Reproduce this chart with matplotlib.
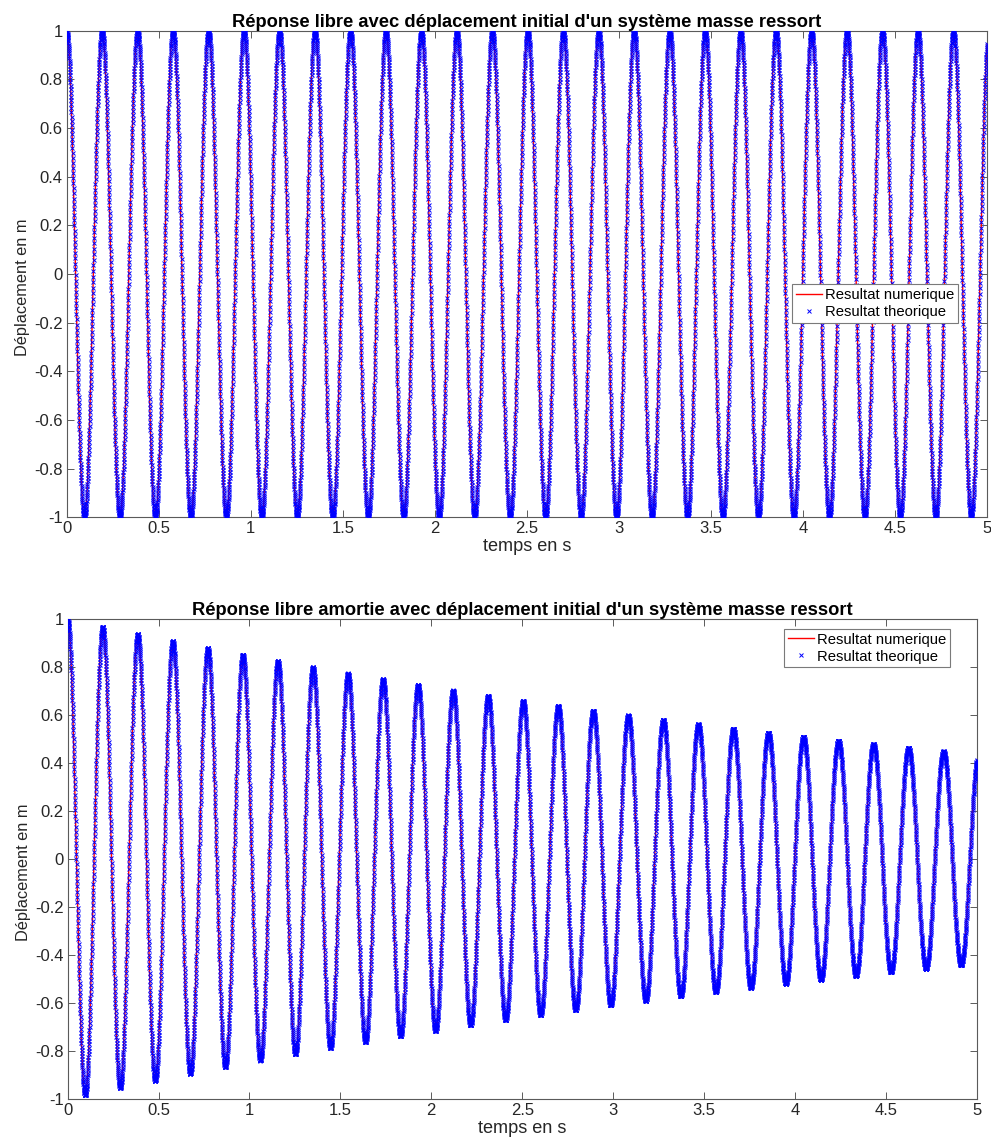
import numpy as np
import matplotlib
matplotlib.use("Agg")
import matplotlib.pyplot as plt

plt.rcParams['font.family'] = ['Liberation Sans', 'DejaVu Sans']
plt.rcParams['axes.unicode_minus'] = False

# ---- values ----
t_range = [0.0, 5.0]          # s
time_step = [0.0007]          # s, sampling of the computed response
initial_displacement = [1.0]  # m
natural_period = [0.1927]     # s  (26 cycles over 5 s)
decay_rate = [0.166]          # 1/s, envelope exp(-a t) of the damped case

titles = ["Réponse libre avec déplacement initial d'un système masse ressort",
          "Réponse libre amortie avec déplacement initial d'un système masse ressort"]
legend_labels = ["Resultat numerique", "Resultat theorique"]
xlabel = "temps en s"
ylabel = "Déplacement en m"
xticks = [0, 0.5, 1, 1.5, 2, 2.5, 3, 3.5, 4, 4.5, 5]
yticks = [-1, -0.8, -0.6, -0.4, -0.2, 0, 0.2, 0.4, 0.6, 0.8, 1]
xtick_labels = ["0", "0.5", "1", "1.5", "2", "2.5", "3", "3.5", "4", "4.5", "5"]
ytick_labels = ["-1", "-0.8", "-0.6", "-0.4", "-0.2", "0", "0.2", "0.4", "0.6", "0.8", "1"]

# ---- model of the mass-spring system (what the chart shows) ----
dt = time_step[0]
t = np.arange(t_range[0], t_range[1] + dt / 2, dt)
wd = 2 * np.pi / natural_period[0]
x0 = initial_displacement[0]


def theoretical(a):
    return x0 * np.exp(-a * t) * (np.cos(wd * t) + a / wd * np.sin(wd * t))


def numerical(a):
    w0sq = wd ** 2 + a ** 2
    c = 2 * a
    x = np.zeros_like(t)
    v = 0.0
    x[0] = x0
    # Newmark average acceleration scheme
    acc = -c * v - w0sq * x[0]
    keff = w0sq + 2 * c / dt + 4 / dt ** 2
    for i in range(1, len(t)):
        rhs = (4 / dt ** 2 * x[i - 1] + 4 / dt * v + acc) + c * (2 / dt * x[i - 1] + v)
        x[i] = rhs / keff
        v_new = 2 / dt * (x[i] - x[i - 1]) - v
        acc = -c * v_new - w0sq * x[i]
        v = v_new
    return x


cases = [0.0, decay_rate[0]]

fig = plt.figure(figsize=(9.91, 11.46), dpi=100)
positions = [[0.0673, 0.5486, 0.9287, 0.4246],
             [0.0683, 0.0408, 0.9173, 0.4188]]
legend_anchor = [(0.788, 0.479), (0.788, 0.98)]

axcol = '#5a5a5a'
for k, a in enumerate(cases):
    ax = fig.add_axes(positions[k])
    ax.plot(t, numerical(a), color='#ff0000', lw=1.0, label=legend_labels[0], zorder=2)
    ax.plot(t, theoretical(a), ls='none', marker='x', color='#0000ff', ms=2.4,
            mew=0.7, label=legend_labels[1], zorder=3)
    ax.set_xlim(0, 5)
    ax.set_ylim(-1, 1)
    ax.set_xticks(xticks)
    ax.set_xticklabels(xtick_labels)
    ax.set_yticks(yticks)
    ax.set_yticklabels(ytick_labels)
    ax.tick_params(direction='in', top=True, right=True, length=5, width=0.7,
                   colors=axcol, labelcolor='#262626', labelsize=12, pad=3)
    for s in ax.spines.values():
        s.set_color(axcol)
        s.set_linewidth(0.8)
    ax.set_title(titles[k], fontsize=13.2, fontweight='bold', pad=3, color='black')
    ax.set_xlabel(xlabel, fontsize=13.1, color='#262626', labelpad=1)
    ax.set_ylabel(ylabel, fontsize=11.8, color='#262626')
    ax.yaxis.set_label_coords(-0.040, 0.472)
    leg = ax.legend(loc='upper left', bbox_to_anchor=legend_anchor[k], fontsize=10.7,
                    frameon=True, fancybox=False, framealpha=1, edgecolor='#7a7a7a',
                    handlelength=1.8, handletextpad=0.15, borderpad=0.25,
                    labelspacing=0.2, borderaxespad=0, markerscale=1.0)
    leg.get_frame().set_linewidth(0.8)

fig.savefig("out.png", dpi=100)
